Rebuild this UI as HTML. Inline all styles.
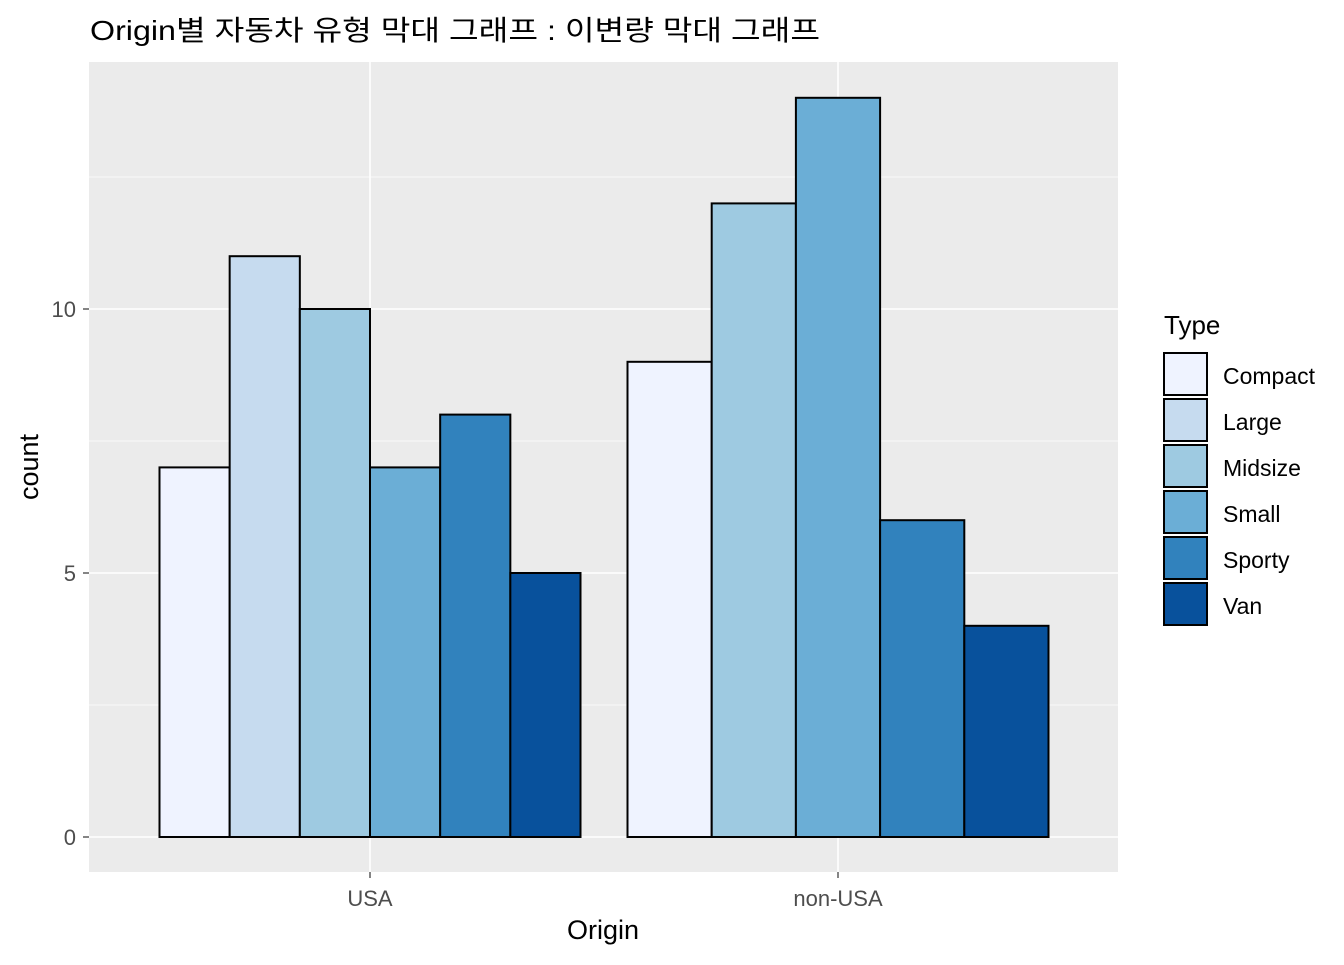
<!DOCTYPE html>
<html><head><meta charset="utf-8">
<style>
body{margin:0;background:#fff;}
svg text{font-family:"Liberation Sans","Noto Sans CJK KR",sans-serif;}
</style></head>
<body>
<svg id="chart" width="1344" height="960" xmlns="http://www.w3.org/2000/svg">
<rect width="1344" height="960" fill="#fff"/>
<text x="90" y="40" font-size="28" fill="#000" textLength="730" lengthAdjust="spacingAndGlyphs">Origin별 자동차 유형 막대 그래프 : 이변량 막대 그래프</text>
<rect x="89" y="62" width="1029" height="810" fill="#EBEBEB"/>
<g id="grid"></g>
<g id="bars"></g>
<g id="axes"></g>
<text x="603" y="939" font-size="27" text-anchor="middle" fill="#000">Origin</text>
<text transform="translate(38,467) rotate(-90)" font-size="27" text-anchor="middle" fill="#000">count</text>
<text x="1164" y="334" font-size="26" fill="#000">Type</text>
<g id="legend"></g>
</svg>
<script>
const types = ["Compact","Large","Midsize","Small","Sporty","Van"];
const colors = ["#EFF3FF","#C6DBEF","#9ECAE1","#6BAED6","#3182BD","#08519C"];
const origins = ["USA","non-USA"];
const usaTypes = ["Compact","Large","Midsize","Small","Sporty","Van"];
const usaCounts = [7,11,10,7,8,5];
const nonUsaTypes = ["Compact","Midsize","Small","Sporty","Van"];
const nonUsaCounts = [9,12,14,6,4];
const yTicks = [0,5,10];
const yMinor = [2.5,7.5,12.5];

const NS="http://www.w3.org/2000/svg";
const panelL=89, panelR=1118;
function y(v){return 837 - v*52.8;}
function xc(i){return 370 + i*468;}
const bandW = 421;
function mk(tag,attrs,parent){const e=document.createElementNS(NS,tag);for(const k in attrs)e.setAttribute(k,attrs[k]);parent.appendChild(e);return e;}
const grid=document.getElementById('grid'), bars=document.getElementById('bars'), axes=document.getElementById('axes'), legend=document.getElementById('legend');

yMinor.forEach(v=>{const l=mk('line',{x1:panelL,x2:panelR,y1:y(v),y2:y(v),stroke:'#fff','stroke-width':0.8},grid);

});
yTicks.forEach(v=>{const l=mk('line',{x1:panelL,x2:panelR,y1:y(v),y2:y(v),stroke:'#fff','stroke-width':1.6},grid);


const t=mk('line',{x1:83,x2:89,y1:y(v),y2:y(v),stroke:'#333','stroke-width':1.2},axes);


const tx=mk('text',{x:76,y:y(v)+8,'font-size':22,'text-anchor':'end',fill:'#4D4D4D'},axes);tx.textContent=v;

});
origins.forEach((o,i)=>{const l=mk('line',{x1:xc(i),x2:xc(i),y1:62,y2:872,stroke:'#fff','stroke-width':1.6},grid);


const t=mk('line',{x1:xc(i),x2:xc(i),y1:872,y2:878,stroke:'#333','stroke-width':1.2},axes);


const tx=mk('text',{x:xc(i),y:906,'font-size':22,'text-anchor':'middle',fill:'#4D4D4D'},axes);tx.textContent=o;

});

function drawGroup(gi,tps,cnts){const n=tps.length,w=bandW/n,left=xc(gi)-bandW/2;
tps.forEach((t,j)=>{const r=mk('rect',{x:left+j*w,y:y(cnts[j]),width:w,height:y(0)-y(cnts[j]),fill:colors[types.indexOf(t)],stroke:'#000','stroke-width':2},bars);

});}
drawGroup(0,usaTypes,usaCounts);
drawGroup(1,nonUsaTypes,nonUsaCounts);

types.forEach((t,i)=>{const yy=353+i*46;
const r=mk('rect',{x:1164,y:yy,width:43,height:42,fill:colors[i],stroke:'#000','stroke-width':2},legend);


const tx=mk('text',{x:1223,y:yy+31,'font-size':23,fill:'#000'},legend);tx.textContent=t;

});
</script>
</body></html>
